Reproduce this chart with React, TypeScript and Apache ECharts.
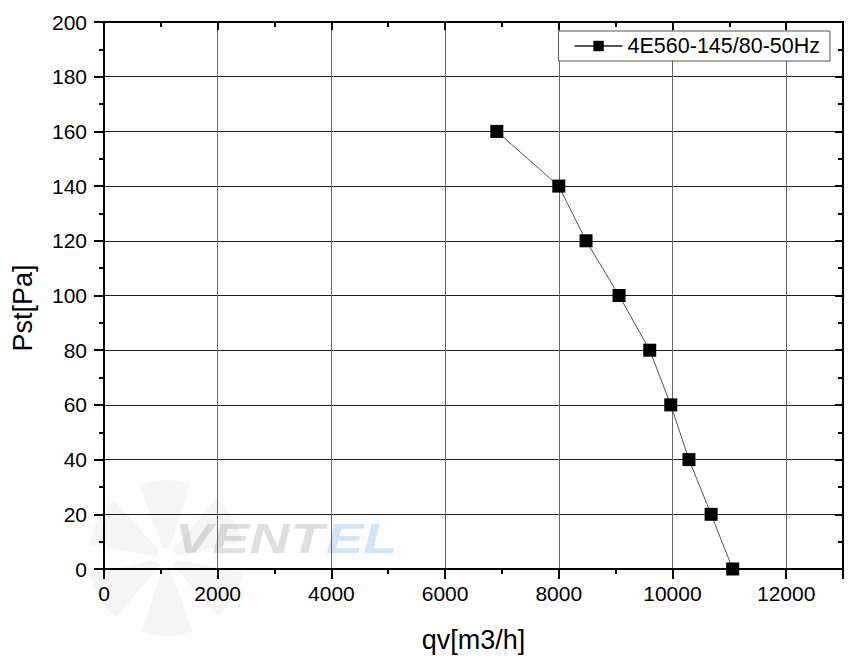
import React, { useEffect, useRef } from "react";
import * as echarts from "echarts";

const seriesName = "4E560-145/80-50Hz";
const flowValues = [6910, 8000, 8480, 9060, 9600, 9970, 10290, 10680, 11060];
const pressureValues = [160, 140, 120, 100, 80, 60, 40, 20, 0];
const xAxisName = "qv[m3/h]";
const yAxisName = "Pst[Pa]";

export default function App() {
  const ref = useRef<HTMLDivElement>(null);
  useEffect(() => {
    if (!ref.current) return;
    const chart = echarts.init(ref.current, null, { renderer: "svg" });
    const font = "Liberation Sans, Arial, sans-serif";
    const data = flowValues.map((x, i) => [x, pressureValues[i]]);
    const fanCx = 158;
    const fanCy = 550;
    const blades = [0, 1, 2, 3, 4, 5].map((k) => ({
      type: "sector",
      silent: true,
      z: 0,
      shape: {
        cx: fanCx,
        cy: fanCy,
        r: 78,
        r0: 10,
        startAngle: ((k * 60 + 10) * Math.PI) / 180,
        endAngle: ((k * 60 + 48) * Math.PI) / 180,
      },
      style: { fill: "rgba(0,0,0,0.04)" },
    }));
    const fmt = (v: number) => String(v);
    chart.setOption({
      animation: false,
      backgroundColor: "#fff",
      textStyle: { fontFamily: font },
      graphic: [
        ...blades,
        {
          type: "text",
          x: 167,
          y: 509,
          scaleX: 1.3,
          z: 0,
          silent: true,
          style: {
            text: "VENT",
            font: "italic bold 43px Liberation Sans, Arial",
            fill: "rgba(150,150,150,0.3)",
          },
        },
        {
          type: "text",
          x: 318,
          y: 509,
          scaleX: 1.3,
          z: 0,
          silent: true,
          style: {
            text: "EL",
            font: "italic bold 43px Liberation Sans, Arial",
            fill: "rgba(120,170,220,0.32)",
          },
        },
        {
          type: "text",
          x: 15,
          y: 300,
          rotation: Math.PI / 2,
          style: {
            text: yAxisName,
            font: "27px Liberation Sans, Arial",
            fill: "#000",
            align: "center",
            verticalAlign: "middle",
          },
        },
      ],
      grid: { left: 96, right: 12, top: 14, bottom: 91, outerBoundsMode: "none" },
      legend: {
        right: 25,
        top: 23,
        data: [seriesName],
        backgroundColor: "#fff",
        borderColor: "#555",
        borderWidth: 1,
        borderRadius: 0,
        padding: [4, 10, 4, 15],
        itemWidth: 48,
        itemHeight: 13,
        textStyle: { fontSize: 21.5, color: "#000", fontFamily: font },
      },
      xAxis: [
        {
          type: "value",
          min: 0,
          max: 13000,
          interval: 2000,
          name: xAxisName,
          nameLocation: "middle",
          nameGap: 57,
          nameTextStyle: { fontSize: 27, color: "#000", fontFamily: font },
          axisLine: { show: true, onZero: false, lineStyle: { color: "#000", width: 2 } },
          axisTick: { show: true, inside: false, length: 10, lineStyle: { color: "#000", width: 2 } },
          minorTick: { show: true, splitNumber: 2, length: 5, lineStyle: { color: "#000", width: 2 } },
          axisLabel: { fontSize: 21, color: "#000", margin: 14, fontFamily: font, showMaxLabel: false, formatter: fmt },
          splitLine: { show: true, lineStyle: { color: "#666", width: 1 } },
        },
        {
          type: "value",
          position: "top",
          min: 0,
          max: 13000,
          interval: 2000,
          axisLine: { show: true, onZero: false, lineStyle: { color: "#000", width: 2 } },
          axisTick: { show: true, inside: true, length: 8, lineStyle: { color: "#000", width: 2 } },
          minorTick: { show: true, splitNumber: 2, length: 5, lineStyle: { color: "#000", width: 2 } },
          axisLabel: { show: false },
          splitLine: { show: false },
        },
      ],
      yAxis: [
        {
          type: "value",
          min: 0,
          max: 200,
          interval: 20,
          axisLine: { show: true, onZero: false, lineStyle: { color: "#000", width: 2 } },
          axisTick: { show: true, inside: false, length: 10, lineStyle: { color: "#000", width: 2 } },
          minorTick: { show: true, splitNumber: 2, length: 5, lineStyle: { color: "#000", width: 2 } },
          axisLabel: { fontSize: 21, color: "#000", margin: 17, fontFamily: font, formatter: fmt },
          splitLine: { show: true, lineStyle: { color: "#222", width: 1 } },
        },
        {
          type: "value",
          position: "right",
          min: 0,
          max: 200,
          interval: 20,
          axisLine: { show: true, onZero: false, lineStyle: { color: "#000", width: 2 } },
          axisTick: { show: true, inside: true, length: 8, lineStyle: { color: "#000", width: 2 } },
          minorTick: { show: true, splitNumber: 2, length: 5, lineStyle: { color: "#000", width: 2 } },
          axisLabel: { show: false },
          splitLine: { show: false },
        },
      ],
      series: [
        {
          name: seriesName,
          type: "line",
          data,
          symbol: "rect",
          symbolSize: 13,
          itemStyle: { color: "#000" },
          lineStyle: { color: "#555", width: 1 },
          z: 5,
        },
      ],
    });
    return () => chart.dispose();
  }, []);
  return <div ref={ref} style={{ width: 847, height: 652 }} />;
}
